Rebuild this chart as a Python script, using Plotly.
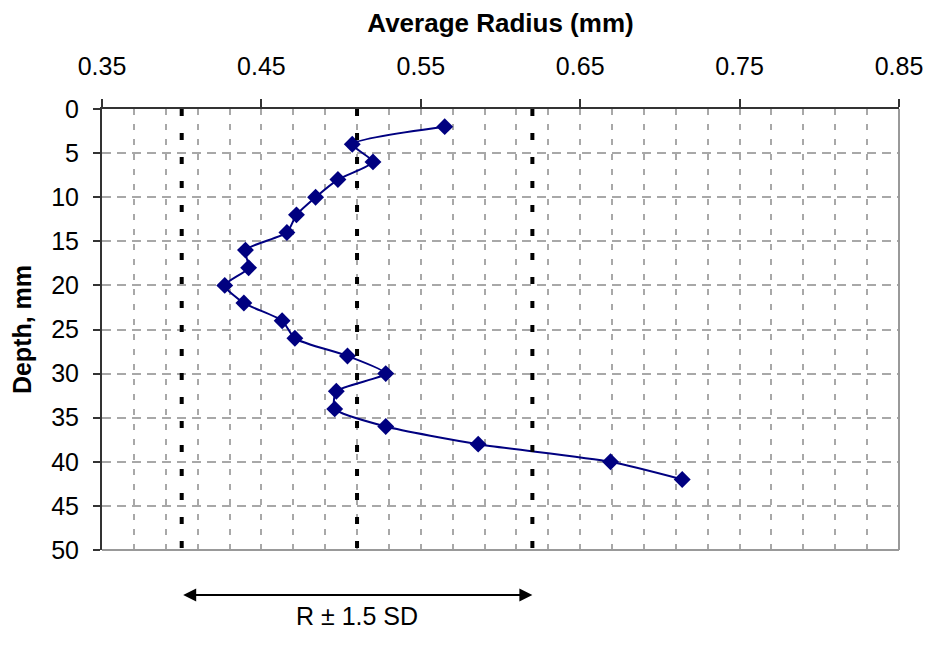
import plotly.graph_objects as go

depth = [2, 4, 6, 8, 10, 12, 14, 16, 18, 20, 22, 24, 26, 28, 30, 32, 34, 36, 38, 40, 42]
radius = [0.565, 0.507, 0.520, 0.498, 0.484, 0.472, 0.466, 0.440, 0.442, 0.427, 0.439,
          0.463, 0.471, 0.504, 0.528, 0.497, 0.496, 0.528, 0.586, 0.669, 0.714]
sd_lines = [0.40, 0.51, 0.62]
x_ticks = [0.35, 0.45, 0.55, 0.65, 0.75, 0.85]
y_ticks = [0, 5, 10, 15, 20, 25, 30, 35, 40, 45, 50]
arrow_span = [0.40, 0.62]
arrow_label = "R ± 1.5 SD"

FONT = "Liberation Sans, Arial, sans-serif"

fig = go.Figure()

fig.add_trace(go.Scatter(
    x=radius, y=depth, mode="lines+markers",
    line=dict(color="#000080", width=2, shape="spline", smoothing=0.6),
    marker=dict(symbol="diamond", size=13, color="#000080"),
    showlegend=False, hoverinfo="skip",
))

for v in sd_lines:
    fig.add_shape(type="line", xref="x", yref="y", x0=v, x1=v, y0=0, y1=50,
                  line=dict(color="black", width=4, dash="7px,17px"))

fig.add_annotation(
    x=arrow_span[1], y=-0.102, xref="x", yref="paper",
    ax=arrow_span[0], ay=0, axref="x", ayref="pixel",
    showarrow=True, arrowhead=2, startarrowhead=2, arrowside="end+start",
    arrowsize=1.3, startarrowsize=1.3, arrowwidth=2, arrowcolor="black", text="",
)
fig.add_annotation(
    x=(arrow_span[0] + arrow_span[1]) / 2, y=-0.186, xref="x", yref="paper",
    text=arrow_label, showarrow=False, font=dict(size=25, color="black", family=FONT),
)

GRID = "#a8a8a8"

fig.update_layout(
    width=927, height=637,
    margin=dict(l=89, r=32, t=100, b=95),
    plot_bgcolor="white", paper_bgcolor="white",
    font=dict(family=FONT, size=25, color="black"),
    xaxis=dict(
        side="top", range=[0.35, 0.85], tickvals=x_ticks,
        ticktext=[f"{v:.2f}" for v in x_ticks],
        showgrid=True, gridcolor=GRID, griddash="6px,9px", gridwidth=1.5,
        minor=dict(dtick=0.02, tick0=0.35, showgrid=True, gridcolor=GRID,
                   griddash="6px,9px", gridwidth=1.5, ticks=""),
        showline=True, linecolor="#333333", linewidth=2, mirror=False,
        ticks="outside", ticklen=8, tickcolor="#333333", tickwidth=2,
        tickfont=dict(size=25), zeroline=False, ticklabelstandoff=14,
        title=dict(text="<b>Average Radius (mm)</b>", font=dict(size=26), standoff=14),
    ),
    yaxis=dict(
        range=[50, 0], tickvals=y_ticks,
        showgrid=True, gridcolor=GRID, griddash="9px,6px", gridwidth=1.5,
        showline=True, linecolor="#333333", linewidth=2,
        ticks="outside", ticklen=7, tickcolor="#333333", tickwidth=2,
        tickfont=dict(size=25), zeroline=False, ticklabelstandoff=9,
        title=dict(text="<b>Depth, mm</b>", font=dict(size=25), standoff=14),
    ),
)

# light border on the right and bottom of the plot area
fig.add_shape(type="line", xref="paper", yref="paper", x0=1, x1=1, y0=0, y1=1,
              line=dict(color="#999999", width=2))
fig.add_shape(type="line", xref="paper", yref="paper", x0=0, x1=1, y0=0, y1=0,
              line=dict(color="#999999", width=2))

fig.write_html("out.html")
